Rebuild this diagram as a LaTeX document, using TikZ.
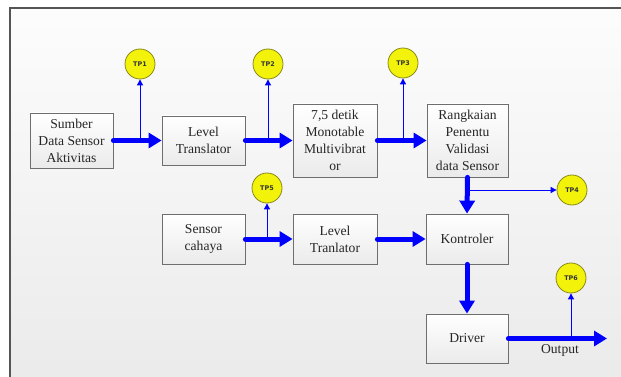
\documentclass[tikz,border=0pt]{standalone}
\usepackage{fontspec}
\setmainfont{Liberation Serif}
\newfontfamily\tpfont{DejaVu Sans}
\usetikzlibrary{arrows.meta}

\definecolor{framegray}{HTML}{555555}
\definecolor{boxedge}{HTML}{6E6E6E}
\definecolor{tpfill}{HTML}{F2F20A}
\definecolor{tpedge}{HTML}{8A8A1A}

\begin{document}
\begin{tikzpicture}[x=1pt,y=-1pt,
  block/.style={draw=boxedge, line width=0.8pt, top color=white, bottom color=black!8,
    align=center, inner sep=0pt, text=black!85,
    font=\fontsize{13.6}{17}\selectfont},
  testpoint/.style={circle, draw=tpedge, line width=0.8pt, fill=tpfill,
    minimum size=30pt, inner sep=0pt, text=black!80,
    font=\tpfont\bfseries\fontsize{6.4}{7}\selectfont},
  bus/.style={draw=blue, line width=5pt, line cap=round,
    -{Triangle[length=13pt,width=15pt]}},
  probe/.style={draw=blue, line width=0.9pt,
    -{Triangle[length=6pt,width=6pt]}}]

% canvas and frame
\useasboundingbox (0,0) rectangle (621,377);
\fill[white] (0,0) rectangle (621,377);
\shade[top color=black!1, bottom color=black!8] (10,8) rectangle (621,377);
\draw[framegray, line width=1.2pt] (10,377) -- (10,8) -- (621,8);

% blocks
\node[block, minimum width=83pt, minimum height=55pt] (src)   at (71.5,140.5) {Sumber\\Data Sensor\\Aktivitas};
\node[block, minimum width=83pt, minimum height=49pt] (lt1)   at (203.5,140.5) {Level\\Translator};
\node[block, minimum width=84pt, minimum height=73pt] (mono)  at (335,140.5) {7,5 detik\\Monotable\\Multivibrat\\or};
\node[block, minimum width=81pt, minimum height=73pt] (valid) at (467.5,140.5) {Rangkaian\\Penentu\\Validasi\\data Sensor};
\node[block, minimum width=83pt, minimum height=50pt] (sens)  at (203.5,239) {Sensor\\cahaya};
\node[block, minimum width=84pt, minimum height=50pt] (lt2)   at (335,239) {Level\\Tranlator};
\node[block, minimum width=82pt, minimum height=50pt] (ctrl)  at (467,239) {Kontroler};
\node[block, minimum width=82pt, minimum height=49pt] (drv)   at (467,338.5) {Driver};

% test points
\node[testpoint] (tp1) at (140,64)  {TP1};
\node[testpoint] (tp2) at (268,64)  {TP2};
\node[testpoint] (tp3) at (403,63)  {TP3};
\node[testpoint] (tp4) at (572,190) {TP4};
\node[testpoint] (tp5) at (267,188) {TP5};
\node[testpoint] (tp6) at (571,278) {TP6};

% tap points on the signal lines
\coordinate (j1) at (140,140.5);
\coordinate (j2) at (268,140.5);
\coordinate (j3) at (403,140.5);
\coordinate (j4) at (467.5,190);
\coordinate (j5) at (267,239);
\coordinate (j6) at (571,338.5);
\coordinate (out) at (607,338.5);

% probe lines to the test points
\draw[probe] (j1) -- (tp1.south);
\draw[probe] (j2) -- (tp2.south);
\draw[probe] (j3) -- (tp3.south);
\draw[probe] (j4) -- (tp4.west);
\draw[probe] (j5) -- (tp5.south);
\draw[probe] (j6) -- (tp6.south);

% signal path
\draw[bus] (src.east) -- (lt1.west);
\draw[bus] (lt1.east) -- (mono.west);
\draw[bus] (mono.east) -- (valid.west);
\draw[bus] (valid.south) -- (ctrl.north);
\draw[bus] (sens.east) -- (lt2.west);
\draw[bus] (lt2.east) -- (ctrl.west);
\draw[bus] (ctrl.south) -- (drv.north);
\draw[bus] (drv.east) -- (out);

\node[text=black!85, font=\fontsize{13.6}{17}\selectfont] (outlbl) at (560,350) {Output};
\end{tikzpicture}
\end{document}
